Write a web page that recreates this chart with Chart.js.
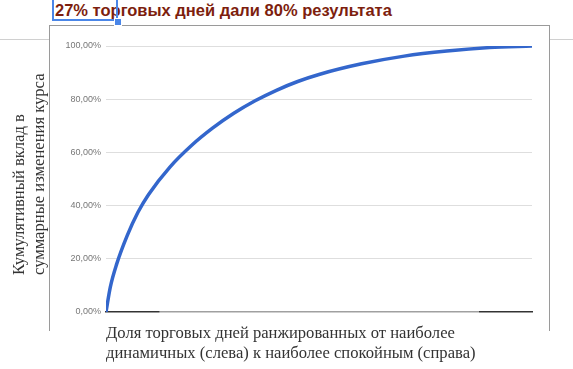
<!DOCTYPE html>
<html>
<head>
<meta charset="utf-8">
<script src="https://cdn.jsdelivr.net/npm/chart.js@4"></script>
<style>
  body { margin: 0; background: #fff; width: 573px; height: 369px; overflow: hidden; position: relative; }
  #wrap { position: absolute; left: 0; top: 0; width: 573px; height: 369px; }
  .frame { position: absolute; left: 49px; top: 25px; width: 501px; height: 306px; box-sizing: border-box;
           border: 1px solid #9a9a9a; border-bottom: none; }
  .sheetline { position: absolute; top: 39px; height: 1px; background: #d0d0d0; }
  .title { position: absolute; left: 55px; top: 1px; font: bold 16.5px "Liberation Sans", Arial, sans-serif;
           color: #7d1e0e; white-space: nowrap; }
  .sel { position: absolute; left: 52px; top: -2px; width: 66px; height: 23px; box-sizing: border-box;
         border: 2px solid #4a86e8; }
  .handle { position: absolute; left: 114px; top: 18px; width: 6px; height: 6px; background: #4a86e8;
            border: 1px solid #fff; box-sizing: content-box; }
  .ytitle { position: absolute; left: 9px; top: 275px; transform-origin: 0 0; transform: rotate(-90deg);
            font: 16.6px/20px "Liberation Serif", "Times New Roman", serif; color: #333; white-space: nowrap; }
</style>
</head>
<body>
<div class="sheetline" style="left:0;width:49px"></div>
<div class="sheetline" style="left:550px;width:23px"></div>
<div class="frame"></div>
<div class="title">27% торговых дней дали 80% результата</div>
<div class="sel"></div>
<div class="handle"></div>
<div id="wrap"><canvas id="chart" width="573" height="369"></canvas></div>
<div class="ytitle">Кумулятивный вклад в<br>суммарные изменения курса</div>
<script>
// share of trading days (sorted from most to least volatile) vs cumulative contribution, %
const dayShare = [0, 0.01, 0.025, 0.05, 0.075, 0.1, 0.15, 0.2, 0.25, 0.3, 0.35, 0.4, 0.45, 0.5, 0.6, 0.7, 0.8, 0.9, 1];
const cumulative = [0, 9.3, 18.0, 28.8, 37.5, 44.2, 54.5, 62.5, 69.1, 74.7, 79.4, 83.35, 86.65, 89.3, 93.3, 96.2, 98.1, 99.4, 100];
const yTicks = [0, 20, 40, 60, 80, 100];
const xTitle = ['Доля торговых дней ранжированных от наиболее', 'динамичных (слева) к наиболее спокойным (справа)'];

const points = dayShare.map((x, i) => ({ x: x, y: cumulative[i] }));

const chart = new Chart(document.getElementById('chart'), {
    type: 'line',
    data: {
        datasets: [{
            data: points,
            borderColor: '#3366cc',
            borderWidth: 3.5,
            pointRadius: 0,
            cubicInterpolationMode: 'monotone',
            fill: false
        }]
    },
    options: {
        responsive: false,
        animation: false,
        layout: { padding: { top: 46, right: 41, bottom: 0, left: 0 } },
        plugins: {
            legend: { display: false },
            tooltip: { enabled: false }
        },
        scales: {
            x: {
                type: 'linear',
                min: 0,
                max: 1,
                ticks: { display: false },
                grid: { display: false },
                border: { display: true, color: '#999', width: 1.5 },
                title: {
                    display: true,
                    text: xTitle,
                    align: 'start',
                    color: '#333',
                    font: { family: '"Liberation Serif", "Times New Roman", serif', size: 16.6, lineHeight: '20px' },
                    padding: { top: 0, bottom: 5 }
                },
                afterFit: (scale) => { scale.height = 57; }
            },
            y: {
                min: 0,
                max: 100,
                afterBuildTicks: (scale) => { scale.ticks = yTicks.map(v => ({ value: v })); },
                ticks: {
                    padding: 5,
                    color: '#777',
                    font: { family: '"Liberation Sans", Arial, sans-serif', size: 9 },
                    callback: (v) => v.toFixed(2).replace('.', ',') + '%'
                },
                grid: {
                    drawTicks: false,
                    color: (ctx) => ctx.tick && ctx.tick.value === 0 ? 'rgba(0,0,0,0)' : '#dedede'
                },
                border: { display: false },
                afterFit: (scale) => { scale.width = 106; }
            }
        }
    }
});

// baseline is darker at both ends, lighter in the middle
const area = chart.chartArea;
const ctx = chart.ctx;
const grad = ctx.createLinearGradient(area.left, 0, area.right, 0);
grad.addColorStop(0, '#333');
grad.addColorStop(0.125, '#333');
grad.addColorStop(0.126, '#a0a0a0');
grad.addColorStop(0.875, '#a0a0a0');
grad.addColorStop(0.876, '#333');
grad.addColorStop(1, '#333');
chart.options.scales.x.border.color = grad;
chart.update('none');
</script>
</body>
</html>
